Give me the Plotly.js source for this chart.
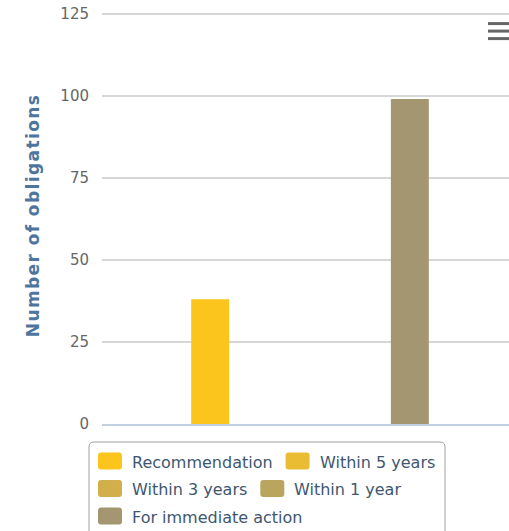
<!DOCTYPE html>
<html>
<head>
<meta charset="utf-8">
<script src="https://cdn.plot.ly/plotly-3.0.1.min.js"></script>
<style>
  html, body { margin: 0; padding: 0; background: #ffffff; }
  #chart { width: 509px; height: 531px; }
  .g-ytitle text { letter-spacing: 1.4px; }
</style>
</head>
<body>
<div id="chart"></div>
<script>
// ---- data ----
const categories = ['Obligations'];
const seriesNames = ['Recommendation', 'Within 5 years', 'Within 3 years', 'Within 1 year', 'For immediate action'];
const seriesValues = [38, 0, 0, 0, 99];
const seriesColors = ['#FCC51E', '#E9BC34', '#D1AF4A', '#BAA55F', '#A39670'];
const yTickValues = [0, 25, 50, 75, 100, 125];
const yTickLabels = ['0', '25', '50', '75', '100', '125'];
const yTitle = 'Number of obligations';

// ---- page geometry (pixels) ----
const W = 509, H = 531;
const yMax = 127;                      // headroom so the 125 grid line is kept
const pxPerUnit = 3.28;
const plotBottom = 424;
const plot = { l: 102, r: 509, t: plotBottom - yMax * pxPerUnit, b: plotBottom };
const categorySpanPx = 416;           // width one category would take on the x axis
const px2x = px => (px - plot.l) / (plot.r - plot.l);
const py2y = py => (plot.b - py) / (plot.b - plot.t);

// rounded rectangle as an SVG-style path in paper coordinates
function roundRect(x0, y0, x1, y1, r) {
  const X = px2x, Y = py2y;
  return [
    `M${X(x0 + r)},${Y(y0)}`,
    `L${X(x1 - r)},${Y(y0)}`,
    `Q${X(x1)},${Y(y0)} ${X(x1)},${Y(y0 + r)}`,
    `L${X(x1)},${Y(y1 - r)}`,
    `Q${X(x1)},${Y(y1)} ${X(x1 - r)},${Y(y1)}`,
    `L${X(x0 + r)},${Y(y1)}`,
    `Q${X(x0)},${Y(y1)} ${X(x0)},${Y(y1 - r)}`,
    `L${X(x0)},${Y(y0 + r)}`,
    `Q${X(x0)},${Y(y0)} ${X(x0 + r)},${Y(y0)}`,
    'Z'
  ].join(' ');
}

// ---- bar traces ----
const traces = seriesNames.map((name, i) => ({
  type: 'bar',
  name: name,
  x: categories,
  y: [seriesValues[i]],
  marker: { color: seriesColors[i], line: { width: 0 } },
  showlegend: false,
  hovertemplate: '%{y}<extra>' + name + '</extra>'
}));

// ---- legend box drawn with shapes and annotations ----
const legendFont = { family: 'DejaVu Sans', size: 16, color: '#3E576F' };
const measure = (() => {
  const ctx = document.createElement('canvas').getContext('2d');
  ctx.font = '16px "DejaVu Sans"';
  return t => ctx.measureText(t).width;
})();

const legendBox = { x0: 89, y0: 442, x1: 445, y1: 545 };
const swatchW = 24, swatchH = 17, textGap = 34, itemGap = 13;
const rowStart = 98, rowLimit = 441, firstRowY = 461, rowStep = 27.5;

const shapes = [];
const annotations = [];

shapes.push({
  type: 'path', xref: 'paper', yref: 'paper',
  path: roundRect(legendBox.x0, legendBox.y0, legendBox.x1, legendBox.y1, 5),
  line: { color: '#A0A0A0', width: 1 }, fillcolor: 'rgba(0,0,0,0)', layer: 'above'
});

let cx = rowStart, row = 0;
seriesNames.forEach((name, i) => {
  const w = measure(name);
  if (cx !== rowStart && cx + textGap + w > rowLimit) { row += 1; cx = rowStart; }
  const cy = firstRowY + row * rowStep;
  shapes.push({
    type: 'path', xref: 'paper', yref: 'paper',
    path: roundRect(cx, cy - swatchH / 2, cx + swatchW, cy + swatchH / 2, 3),
    line: { width: 0 }, fillcolor: seriesColors[i], layer: 'above'
  });
  annotations.push({
    xref: 'paper', yref: 'paper', x: px2x(cx + textGap), y: py2y(cy + 1),
    xanchor: 'left', yanchor: 'middle', showarrow: false,
    text: name, font: legendFont, borderpad: 0, borderwidth: 0
  });
  cx += textGap + w + itemGap;
});

// ---- menu button (three bars) ----
[24, 31.5, 39].forEach(py => {
  shapes.push({
    type: 'line', xref: 'paper', yref: 'paper',
    x0: px2x(488), x1: px2x(512), y0: py2y(py), y1: py2y(py),
    line: { color: '#666666', width: 3 }, layer: 'above'
  });
});

const layout = {
  width: W, height: H,
  margin: { l: plot.l, r: W - plot.r, t: plot.t, b: H - plot.b, pad: 0 },
  paper_bgcolor: '#ffffff', plot_bgcolor: '#ffffff',
  barmode: 'group', bargap: 0.4, bargroupgap: 0.24,
  showlegend: false,
  xaxis: {
    type: 'category',
    range: [-0.5, -0.5 + (plot.r - plot.l) / categorySpanPx],
    showticklabels: false, ticks: '', showgrid: false, zeroline: false,
    showline: true, linecolor: '#C0D0E0', linewidth: 1.5, fixedrange: true
  },
  yaxis: {
    range: [0, yMax], tickmode: 'array', tickvals: yTickValues, ticktext: yTickLabels,
    showgrid: true, gridcolor: '#D6D6D6', gridwidth: 1.5,
    zeroline: false, showline: false, ticks: '',
    ticklabelstandoff: 12,
    tickfont: { family: 'DejaVu Sans', size: 15, color: '#666666' },
    title: {
      text: yTitle, standoff: 16,
      font: { family: 'DejaVu Sans', size: 17, weight: 'bold', color: '#4D759E' }
    },
    fixedrange: true
  },
  shapes: shapes,
  annotations: annotations
};

Plotly.newPlot('chart', traces, layout, { displayModeBar: false, staticPlot: false });
</script>
</body>
</html>
